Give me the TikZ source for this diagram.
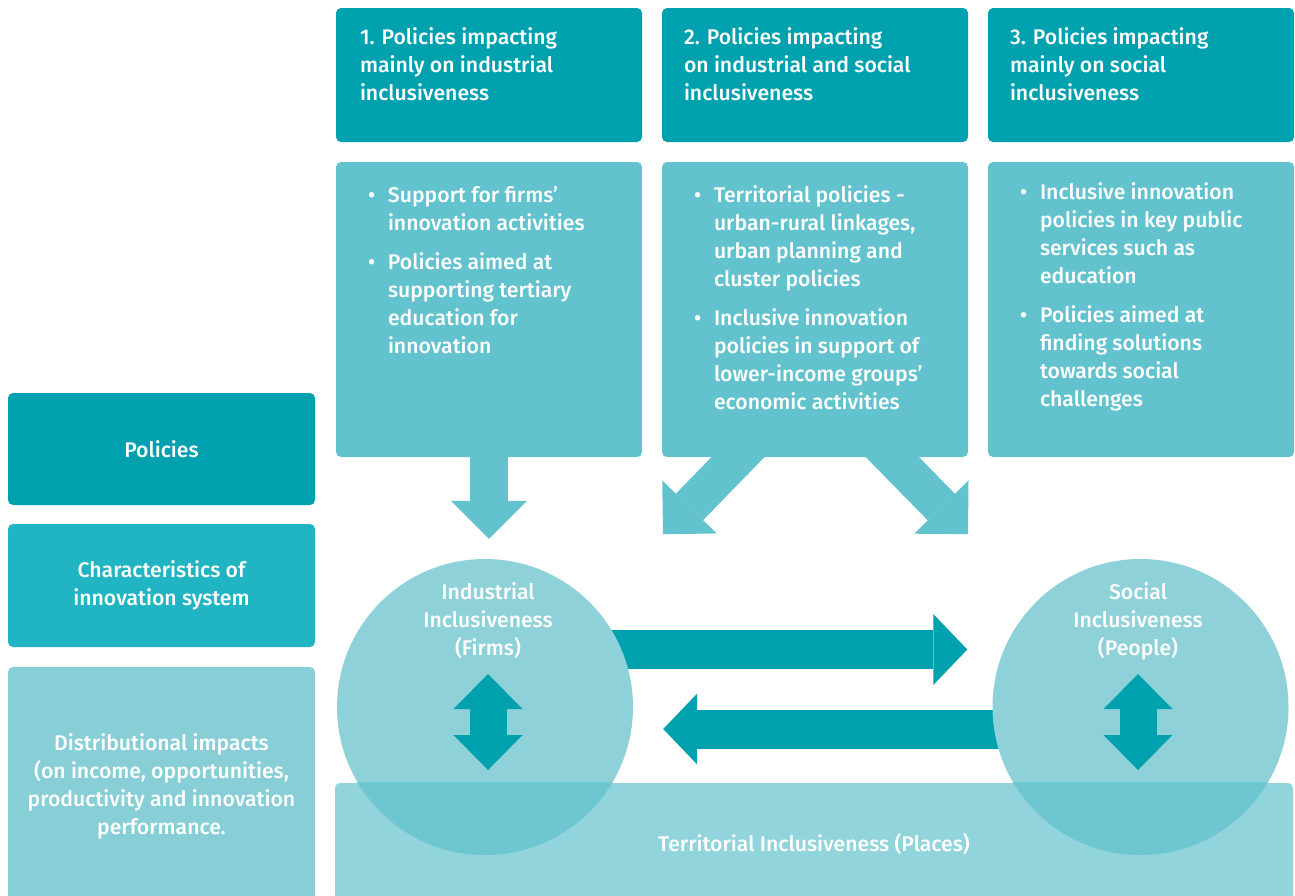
\documentclass[tikz,border=0pt]{standalone}
\usepackage{fontspec}
\IfFontExistsTF{Fira Sans Medium}{\setmainfont{Fira Sans Medium}}{\setmainfont{Fira Sans}}
\usetikzlibrary{positioning,calc,arrows.meta,backgrounds}
\definecolor{tealdark}{HTML}{00A1AF}
\definecolor{tealmid}{HTML}{21B5C3}
\definecolor{teallight}{HTML}{62C2CD}
\definecolor{tealpale}{HTML}{88CED7}
\definecolor{tealcircle}{HTML}{8ED1D9}
\definecolor{tealbase}{HTML}{92D4DC}
\definecolor{tealover}{HTML}{6EC6D0}
\newcommand{\itm}{\makebox[20pt][l]{•}}
\newcommand{\hang}{\hspace*{20pt}}

\begin{document}
\begin{tikzpicture}[x=1pt,y=-1pt,
    every node/.style={text=white,font=\fontsize{21.2}{28}\selectfont},
    panel/.style={rounded corners=5pt,inner sep=0pt},
    sidebox/.style={panel,minimum width=307pt,align=center},
    headbox/.style={panel,fill=tealdark,minimum width=306pt,minimum height=134pt},
    listbox/.style={panel,fill=teallight,minimum width=306pt,minimum height=295pt},
    txt/.style={anchor=north west,align=left,inner sep=0pt},
    ring/.style={circle,fill=tealcircle,minimum size=296pt,inner sep=0pt},
    fatarrow/.style={teallight,line width=38pt,-{Triangle[length=38pt,width=76pt,line width=0pt]}},
    linkarrow/.style={tealdark,line width=39pt,-{Triangle[length=34pt,width=71pt,line width=0pt]}},
    updown/.style={tealdark,line width=37pt,{Triangle[length=35pt,width=69pt,line width=0pt]}-{Triangle[length=35pt,width=69pt,line width=0pt]}}]
\useasboundingbox (0,0) rectangle (1295,895);

\node[sidebox,fill=tealdark,minimum height=112pt] (pol) at (161.5,449) {Policies};
\node[sidebox,fill=tealmid,minimum height=123pt] (chr) at (161.5,585.5) {Characteristics of\\innovation system};
\node[sidebox,fill=tealpale,minimum height=238pt] (dist) at (161.5,786) {Distributional impacts\\(on income, opportunities,\\productivity and innovation\\performance.};

\node[headbox] (h1) at (489,75) {};
\node[headbox] (h2) at (815,75) {};
\node[headbox] (h3) at (1141,75) {};
\node[txt] at ([shift={(24,20)}]h1.north west) {1. Policies impacting\\mainly on industrial\\inclusiveness};
\node[txt] at ([shift={(22,20)}]h2.north west) {2. Policies impacting\\on industrial and social\\inclusiveness};
\node[txt] at ([shift={(22,20)}]h3.north west) {3. Policies impacting\\mainly on social\\inclusiveness};

\node[listbox] (l1) at (489,309.5) {};
\node[listbox] (l2) at (815,309.5) {};
\node[listbox] (l3) at (1141,309.5) {};
\node[txt] at ([shift={(32,24)}]l1.north west) {\itm Support for firms’\\\hang innovation activities\\[11pt]\itm Policies aimed at\\\hang supporting tertiary\\\hang education for\\\hang innovation};
\node[txt] at ([shift={(32,24)}]l2.north west) {\itm Territorial policies -\\\hang urban-rural linkages,\\\hang urban planning and\\\hang cluster policies\\[11pt]\itm Inclusive innovation\\\hang policies in support of\\\hang lower-income groups’\\\hang economic activities};
\node[txt] at ([shift={(32,21)}]l3.north west) {\itm Inclusive innovation\\\hang policies in key public\\\hang services such as\\\hang education\\[11pt]\itm Policies aimed at\\\hang finding solutions\\\hang towards social\\\hang challenges};

\node[ring] (firms) at (485,707) {};
\node[ring] (social) at (1140.5,707) {};

\begin{scope}[on background layer]
\draw[fatarrow] ($(l1.south)+(0,-10)$) -- ($(firms.north)+(4,-20)$);
\draw[fatarrow] ($(l2.south)+(-48,-30)$) -- ($(l2.south)+(-152,77)$);
\draw[fatarrow] ($(l2.south)+(48,-30)$) -- ($(l2.south)+(153,77)$);
\node[panel,fill=tealbase,minimum width=958pt,minimum height=122pt] (terr) at (814,844) {Territorial Inclusiveness (Places)};
\draw[linkarrow] ($(firms.center)+(0,-57.5)$) -- ($(social.west)+(-25,-57.5)$);
\draw[linkarrow] ($(social.center)+(0,22)$) -- ($(firms.east)+(30,22)$);
\end{scope}

\begin{scope}
\clip (terr.north west) rectangle (terr.south east);
\fill[tealover] (firms.center) circle[radius=148];
\fill[tealover] (social.center) circle[radius=148];
\end{scope}

\node[align=center] (firmstxt) at (488,621) {Industrial\\Inclusiveness\\(Firms)};
\node[align=center] (socialtxt) at (1138,621) {Social\\Inclusiveness\\(People)};
\draw[updown] ($(firms.center)+(3,-33)$) -- ($(firms.center)+(3,63)$);
\draw[updown] ($(social.center)+(-2.5,-33)$) -- ($(social.center)+(-2.5,63)$);
\end{tikzpicture}
\end{document}
